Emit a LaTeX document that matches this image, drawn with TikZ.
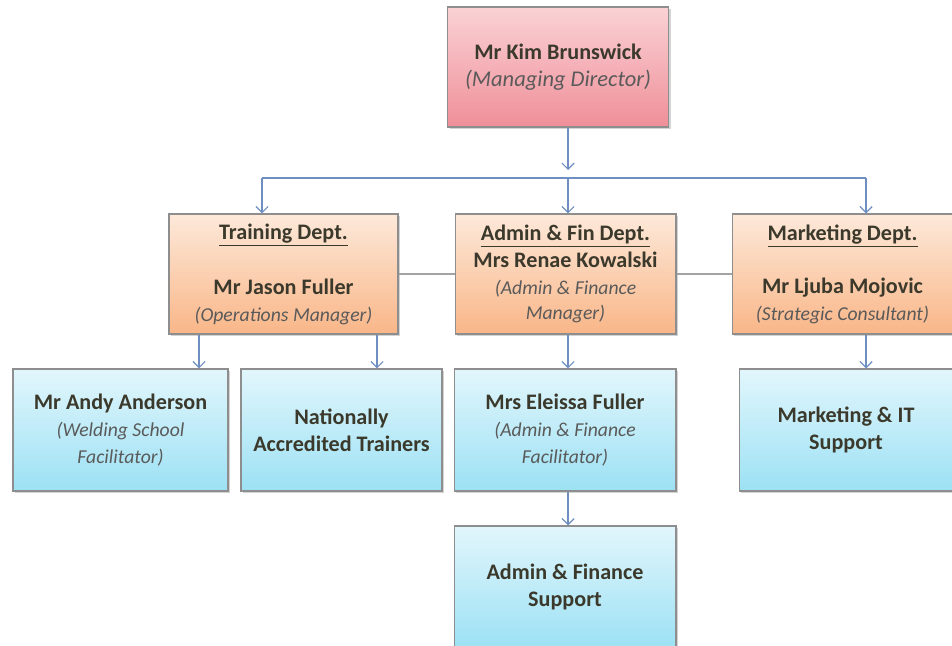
\documentclass[tikz,border=0pt]{standalone}
\usepackage{fontspec}
\setmainfont{Carlito}
\usetikzlibrary{arrows.meta,shadows}
\definecolor{pinkT}{HTML}{FAD2D5}
\definecolor{pinkB}{HTML}{EF8F99}
\definecolor{oraT}{HTML}{FDE9DA}
\definecolor{oraB}{HTML}{F9B688}
\definecolor{bluT}{HTML}{E2F6FC}
\definecolor{bluB}{HTML}{9CE1F4}
\definecolor{boxline}{HTML}{8E8E8E}
\definecolor{txtdark}{HTML}{3B392B}
\definecolor{txtital}{HTML}{5A5A5A}
\definecolor{conn}{HTML}{6F8FC2}
\definecolor{linkgray}{HTML}{A3A3A3}
\newcommand{\rl}[1]{{\fontsize{11.2}{13}\selectfont\mdseries\itshape\color{txtital}#1}}
\begin{document}
\begin{tikzpicture}[x=0.02cm,y=-0.02cm]
\tikzstyle{orgbox}=[draw=boxline,line width=0.6pt,rectangle,align=center,text=txtdark,
  font=\fontsize{12.6}{15.3}\selectfont\bfseries,minimum height=2.4cm,
  drop shadow={shadow xshift=1.2pt,shadow yshift=-1.2pt,opacity=0.35}]
\tikzstyle{pbox}=[orgbox,top color=pinkT,bottom color=pinkB]
\tikzstyle{obox}=[orgbox,top color=oraT,bottom color=oraB]
\tikzstyle{bbox}=[orgbox,top color=bluT,bottom color=bluB,minimum height=2.44cm]
\tikzstyle{arr}=[draw=conn,line width=0.7pt,-{Straight Barb[length=3.5pt,width=7pt]}]
\useasboundingbox (0,0) rectangle (952,645);
% top
\node[pbox,minimum width=4.42cm](md) at (558,67) {Mr Kim Brunswick\\{\fontsize{12.8}{15}\selectfont\mdseries\itshape\color{txtital}(Managing Director)}};
% departments
\node[obox,minimum width=4.58cm](trn) at (283.5,274) {\underline{Training Dept.}\\[16pt]Mr Jason Fuller\\\rl{(Operations Manager)}};
\node[obox,minimum width=4.42cm](adm) at (565.5,274) {\underline{Admin \& Fin Dept.}\\Mrs Renae Kowalski\\\rl{(Admin \& Finance}\\[-1pt]\rl{Manager)}};
\node[obox,minimum width=4.42cm](mkt) at (842.5,274) {\underline{Marketing Dept.}\\[15pt]Mr Ljuba Mojovic\\\rl{(Strategic Consultant)}};
% staff
\node[bbox,minimum width=4.3cm](and) at (120.5,430) {Mr Andy Anderson\\\rl{(Welding School}\\\rl{Facilitator)}};
\node[bbox,minimum width=4.02cm](nat) at (341.5,430) {Nationally\\Accredited Trainers};
\node[bbox,minimum width=4.44cm](ele) at (565,430) {Mrs Eleissa Fuller\\\rl{(Admin \& Finance}\\\rl{Facilitator)}};
\node[bbox,minimum width=4.28cm](mit) at (846,430) {Marketing \& IT\\Support};
\node[bbox,minimum width=4.44cm](afs) at (565,587) {Admin \& Finance\\Support};
% connectors
\coordinate (busL) at (262,178);
\coordinate (busC) at (568,178);
\coordinate (busR) at (866,178);
\coordinate (tl) at (199,0);
\coordinate (tr) at (377,0);
\draw[arr] (md.south -| busC) -- ([yshift=0.16cm]busC);
\draw[draw=conn,line width=0.7pt] (busL) -- (busR);
\draw[arr] (busL) -- (busL |- trn.north);
\draw[arr] (busC) -- (busC |- adm.north);
\draw[arr] (busR) -- (busR |- mkt.north);
\draw[linkgray,line width=0.6pt] (trn.east) -- (adm.west);
\draw[linkgray,line width=0.6pt] (adm.east) -- (mkt.west);
\draw[arr] (trn.south -| tl) -- (and.north -| tl);
\draw[arr] (trn.south -| tr) -- (nat.north -| tr);
\draw[arr] (adm.south -| busC) -- (ele.north -| busC);
\draw[arr] (mkt.south -| busR) -- (mit.north -| busR);
\draw[arr] (ele.south -| busC) -- (afs.north -| busC);
\end{tikzpicture}
\end{document}
